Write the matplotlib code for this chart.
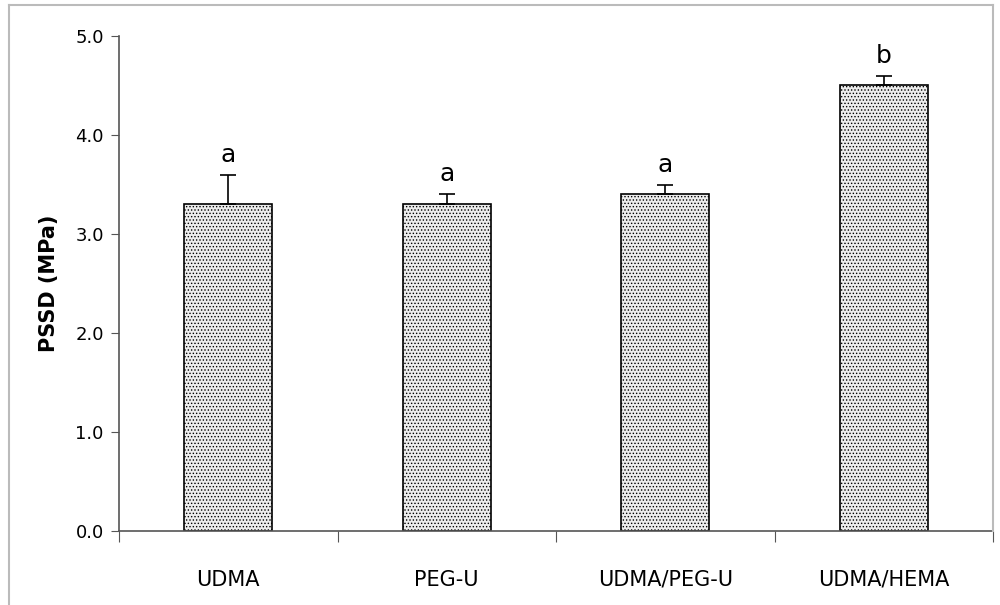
import matplotlib.pyplot as plt
from matplotlib.lines import Line2D
from matplotlib.ticker import FormatStrFormatter

# Polymerization shrinkage stress per resin
groups = ['UDMA', 'PEG-U', 'UDMA/PEG-U', 'UDMA/HEMA']
pssd = [3.3, 3.3, 3.4, 4.5]
sd = [0.3, 0.1, 0.1, 0.1]
letters = ['a', 'a', 'a', 'b']

plt.rcParams['font.family'] = 'DejaVu Sans'
plt.rcParams['hatch.color'] = '#c4c4c4'
plt.rcParams['hatch.linewidth'] = 0.6

fig = plt.figure(figsize=(10, 6.05), dpi=100)
ax = fig.add_axes([0.119, 0.1223, 0.874, 0.8182])

x = range(len(groups))
ax.bar(x, pssd, width=0.405, color='#ededed', edgecolor='black',
       linewidth=1.2, hatch='.....', zorder=2)
ax.errorbar(x, pssd, yerr=[[0] * len(sd), sd], fmt='none', ecolor='black',
            elinewidth=1.2, capsize=6, capthick=1.2, zorder=3)

for i, (v, e, s) in enumerate(zip(pssd, sd, letters)):
    ax.text(i, v + e + 0.08, s, ha='center', va='bottom', fontsize=18)

ax.set_xlim(-0.5, len(groups) - 0.5)
ax.set_ylim(0, 5)
ax.set_yticks([0, 1, 2, 3, 4, 5])
ax.yaxis.set_major_formatter(FormatStrFormatter('%.1f'))
ax.set_xticks([i + 0.5 for i in range(-1, len(groups))])
ax.set_xticklabels([])
ax.set_xticks(list(x), minor=True)
ax.set_xticklabels(groups, minor=True)
ax.tick_params(axis='x', which='minor', length=0, pad=28, labelsize=15)
ax.tick_params(axis='x', which='major', length=8, color='#555555')
ax.tick_params(axis='y', length=6, labelsize=13, color='#555555', pad=5)
ax.set_ylabel('PSSD (MPa)', fontsize=15, fontweight='bold', labelpad=12)

for side in ['top', 'right']:
    ax.spines[side].set_visible(False)
for side in ['left', 'bottom']:
    ax.spines[side].set_color('#555555')
    ax.spines[side].set_linewidth(1.2)

# frame around the figure
frame_kw = dict(transform=fig.transFigure, color='#bbbbbb', linewidth=1.5)
fig.add_artist(Line2D([0.009, 0.009], [0, 0.992], **frame_kw))
fig.add_artist(Line2D([0.009, 0.993], [0.992, 0.992], **frame_kw))
fig.add_artist(Line2D([0.993, 0.993], [0.1223, 0.992], **frame_kw))

fig.savefig('out.png', dpi=100)
